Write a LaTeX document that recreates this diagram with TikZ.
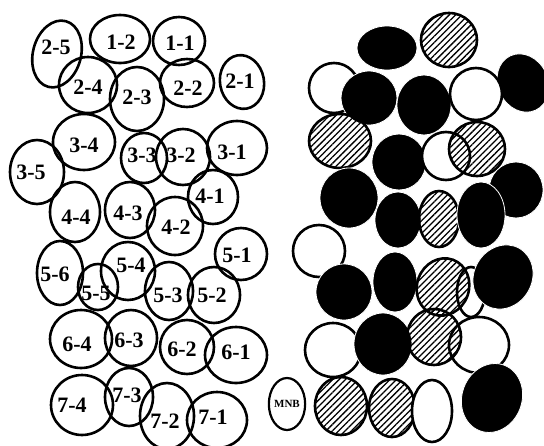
\documentclass[tikz,border=0pt]{standalone}
\usepackage{fontspec}
\setmainfont{Liberation Serif}
\usepackage{tikz}
\usetikzlibrary{shapes.geometric,patterns.meta}

\begin{document}
\begin{tikzpicture}[
    x=1pt,y=-1pt,
    cell/.style={draw,line width=2.6pt},
    tag/.style={font=\fontsize{22}{22}\selectfont\bfseries,inner sep=0pt},
    dark/.style={fill=black,draw=white,line width=0.8pt},
    clear/.style={fill=white,draw=black,line width=2.6pt},
    striped/.style={draw=black,line width=2.6pt,pattern={Lines[angle=45,distance=4.5pt,line width=1.3pt]}}
]
\useasboundingbox (0,0) rectangle (544,445);

% numbered nuclei
\draw[cell] (57,54) ellipse [x radius=24,y radius=34,rotate=-15];
\node[tag] (c25) at (56,47) {2-5};
\draw[cell] (120,39) ellipse [x radius=30,y radius=24];
\node[tag] (c12) at (121,42) {1-2};
\draw[cell] (179,41) ellipse [x radius=26,y radius=24];
\node[tag] (c11) at (180,43) {1-1};
\draw[cell] (88,85) ellipse [x radius=29,y radius=28];
\node[tag] (c24) at (88,87) {2-4};
\draw[cell] (137,99) ellipse [x radius=27,y radius=32];
\node[tag] (c23) at (137,97) {2-3};
\draw[cell] (187,83) ellipse [x radius=27,y radius=24];
\node[tag] (c22) at (188,88) {2-2};
\draw[cell] (242,82) ellipse [x radius=22,y radius=27,rotate=10];
\node[tag] (c21) at (240,81) {2-1};
\draw[cell] (84,142) ellipse [x radius=31,y radius=28];
\node[tag] (c34) at (84,145) {3-4};
\draw[cell] (37,172) ellipse [x radius=27,y radius=32];
\node[tag] (c35) at (31,172) {3-5};
\draw[cell] (144,158) ellipse [x radius=23,y radius=25];
\node[tag] (c33) at (142,155) {3-3};
\draw[cell] (183,157) ellipse [x radius=27,y radius=28];
\node[tag] (c32) at (181,155) {3-2};
\draw[cell] (237,148) ellipse [x radius=30,y radius=27];
\node[tag] (c31) at (232,152) {3-1};
\draw[cell] (213,197) ellipse [x radius=25,y radius=27];
\node[tag] (c41) at (210,196) {4-1};
\draw[cell] (75,212) ellipse [x radius=25,y radius=30];
\node[tag] (c44) at (76,217) {4-4};
\draw[cell] (130,210) ellipse [x radius=25,y radius=28];
\node[tag] (c43) at (128,213) {4-3};
\draw[cell] (175,226) ellipse [x radius=28,y radius=29];
\node[tag] (c42) at (176,227) {4-2};
\draw[cell] (241,254) ellipse [x radius=26,y radius=26];
\node[tag] (c51) at (237,255) {5-1};
\draw[cell] (60,273) ellipse [x radius=23,y radius=32];
\node[tag] (c56) at (55,274) {5-6};
\draw[cell] (98,287) ellipse [x radius=20,y radius=23];
\node[tag] (c55) at (96,293) {5-5};
\draw[cell] (128,271) ellipse [x radius=27,y radius=29];
\node[tag] (c54) at (131,265) {5-4};
\draw[cell] (169,291) ellipse [x radius=24,y radius=29];
\node[tag] (c53) at (168,295) {5-3};
\draw[cell] (214,295) ellipse [x radius=26,y radius=28];
\node[tag] (c52) at (212,295) {5-2};
\draw[cell] (81,339) ellipse [x radius=31,y radius=29];
\node[tag] (c64) at (77,344) {6-4};
\draw[cell] (131,338) ellipse [x radius=26,y radius=28];
\node[tag] (c63) at (129,340) {6-3};
\draw[cell] (187,347) ellipse [x radius=27,y radius=27];
\node[tag] (c62) at (182,349) {6-2};
\draw[cell] (236,355) ellipse [x radius=31,y radius=28];
\node[tag] (c61) at (236,352) {6-1};
\draw[cell] (82,405) ellipse [x radius=31,y radius=30];
\node[tag] (c74) at (72,405) {7-4};
\draw[cell] (129,397) ellipse [x radius=24,y radius=29];
\node[tag] (c73) at (127,395) {7-3};
\draw[cell] (167,416) ellipse [x radius=27,y radius=33];
\node[tag] (c72) at (165,421) {7-2};
\draw[cell] (217,420) ellipse [x radius=30,y radius=28];
\node[tag] (c71) at (213,417) {7-1};
\node[draw,ellipse,line width=2.2pt,minimum width=36pt,minimum height=52pt,inner sep=0pt,
      font=\fontsize{11}{11}\selectfont\bfseries] (mnb) at (287,404) {MNB};

% staining pattern
\fill[dark] (387,48) ellipse [x radius=30,y radius=22];
\draw[striped] (449,40) ellipse [x radius=28,y radius=27];
\fill[dark] (523,83) ellipse [x radius=25,y radius=30,rotate=25];
\draw[clear] (334,88) ellipse [x radius=25,y radius=25];
\fill[dark] (369,98) ellipse [x radius=28,y radius=27];
\fill[dark] (424,105) ellipse [x radius=27,y radius=30];
\draw[clear] (476,94) ellipse [x radius=26,y radius=26];
\draw[striped] (340,141) ellipse [x radius=31,y radius=27];
\fill[dark] (399,162) ellipse [x radius=27,y radius=28];
\draw[clear] (446,156) ellipse [x radius=24,y radius=24];
\draw[striped] (477,149) ellipse [x radius=28,y radius=27];
\fill[dark] (516,190) ellipse [x radius=27,y radius=28];
\fill[dark] (349,198) ellipse [x radius=29,y radius=30];
\fill[dark] (398,220) ellipse [x radius=23,y radius=28];
\draw[striped] (439,219) ellipse [x radius=20,y radius=28];
\fill[dark] (481,215) ellipse [x radius=24,y radius=33];
\draw[clear] (319,251) ellipse [x radius=26,y radius=26];
\fill[dark] (344,292) ellipse [x radius=28,y radius=28];
\fill[dark] (395,282) ellipse [x radius=22,y radius=30];
\draw[clear] (471,292) ellipse [x radius=14,y radius=25];
\draw[striped] (443,287) ellipse [x radius=26,y radius=29,rotate=-20];
\fill[dark] (503,277) ellipse [x radius=29,y radius=33,rotate=-30];
\draw[clear] (333,350) ellipse [x radius=28,y radius=27];
\fill[dark] (383,344) ellipse [x radius=29,y radius=31];
\draw[clear] (479,345) ellipse [x radius=30,y radius=28];
\draw[striped] (434,337) ellipse [x radius=27,y radius=28];
\draw[striped] (341,406) ellipse [x radius=26,y radius=29];
\draw[striped] (392,408) ellipse [x radius=23,y radius=29];
\draw[clear] (432,411) ellipse [x radius=20,y radius=31];
\fill[dark] (492,398) ellipse [x radius=30,y radius=35,rotate=-20];
\end{tikzpicture}
\end{document}
